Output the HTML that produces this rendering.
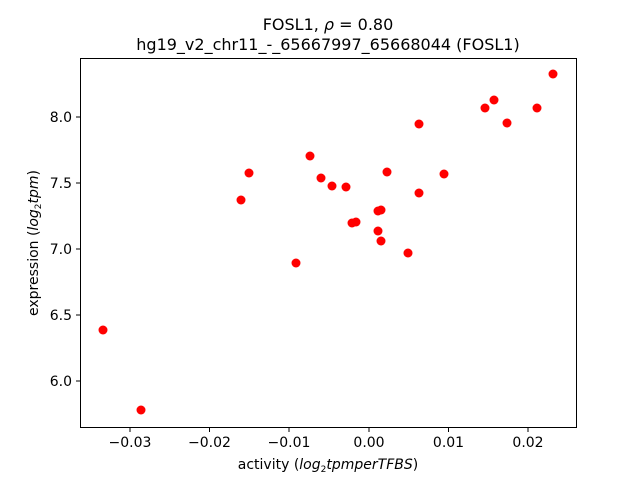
<!DOCTYPE html>
<html><head><meta charset="utf-8"><style>body{margin:0;background:#fff}</style></head><body>
<svg width="640" height="480" xmlns="http://www.w3.org/2000/svg" font-family="DejaVu Sans, Liberation Sans, sans-serif">
<rect width="640" height="480" fill="#fff"/>
<text x="328" y="30" font-size="16" text-anchor="middle">FOSL1, <tspan font-style="italic">ρ</tspan> = 0.80</text>
<text x="328" y="50" font-size="16" text-anchor="middle">hg19_v2_chr11_-_65667997_65668044 (FOSL1)</text>
<g fill="red">
<circle cx="553" cy="74" r="4.5"/><circle cx="494" cy="100" r="4.5"/><circle cx="485" cy="108" r="4.5"/>
<circle cx="537" cy="108" r="4.5"/><circle cx="507" cy="123" r="4.5"/><circle cx="419" cy="124" r="4.5"/>
<circle cx="310" cy="156" r="4.5"/><circle cx="249" cy="173" r="4.5"/><circle cx="387" cy="172" r="4.5"/>
<circle cx="321" cy="178" r="4.5"/><circle cx="444" cy="174" r="4.5"/><circle cx="332" cy="186" r="4.5"/>
<circle cx="346" cy="187" r="4.5"/><circle cx="419" cy="193" r="4.5"/><circle cx="241" cy="200" r="4.5"/>
<circle cx="381" cy="210" r="4.5"/><circle cx="378" cy="211" r="4.5"/><circle cx="352" cy="223" r="4.5"/>
<circle cx="356" cy="222" r="4.5"/><circle cx="378" cy="231" r="4.5"/><circle cx="381" cy="241" r="4.5"/>
<circle cx="408" cy="253" r="4.5"/><circle cx="296" cy="263" r="4.5"/><circle cx="103" cy="330" r="4.5"/>
<circle cx="141" cy="410" r="4.5"/>
</g>
<rect x="80.5" y="58.5" width="496" height="369" fill="none" stroke="#000" stroke-width="1"/>
<g stroke="#000">
<line x1="130" y1="428" x2="130" y2="432"/><line x1="209.5" y1="428" x2="209.5" y2="432"/>
<line x1="289" y1="428" x2="289" y2="432"/><line x1="369" y1="428" x2="369" y2="432"/>
<line x1="448.5" y1="428" x2="448.5" y2="432"/><line x1="528" y1="428" x2="528" y2="432"/>
<line x1="76" y1="117" x2="80" y2="117"/><line x1="76" y1="183" x2="80" y2="183"/>
<line x1="76" y1="249" x2="80" y2="249"/><line x1="76" y1="315" x2="80" y2="315"/>
<line x1="76" y1="381" x2="80" y2="381"/>
</g>
<g font-size="14" text-anchor="middle">
<text x="130" y="447">−0.03</text><text x="209.5" y="447">−0.02</text><text x="289" y="447">−0.01</text>
<text x="369" y="447">0.00</text><text x="448.5" y="447">0.01</text><text x="528" y="447">0.02</text>
</g>
<g font-size="14" text-anchor="end">
<text x="72" y="122">8.0</text><text x="72" y="188">7.5</text><text x="72" y="254">7.0</text>
<text x="72" y="320">6.5</text><text x="72" y="386">6.0</text>
</g>
<text x="328" y="469" font-size="14" text-anchor="middle">activity (<tspan font-style="italic">log</tspan><tspan font-size="9" dy="3">2</tspan><tspan dy="-3" font-style="italic">tpmperTFBS</tspan>)</text>
<text transform="translate(38,243) rotate(-90)" font-size="14" text-anchor="middle">expression (<tspan font-style="italic">log</tspan><tspan font-size="9" dy="3">2</tspan><tspan dy="-3" font-style="italic">tpm</tspan>)</text>
</svg>
</body></html>
